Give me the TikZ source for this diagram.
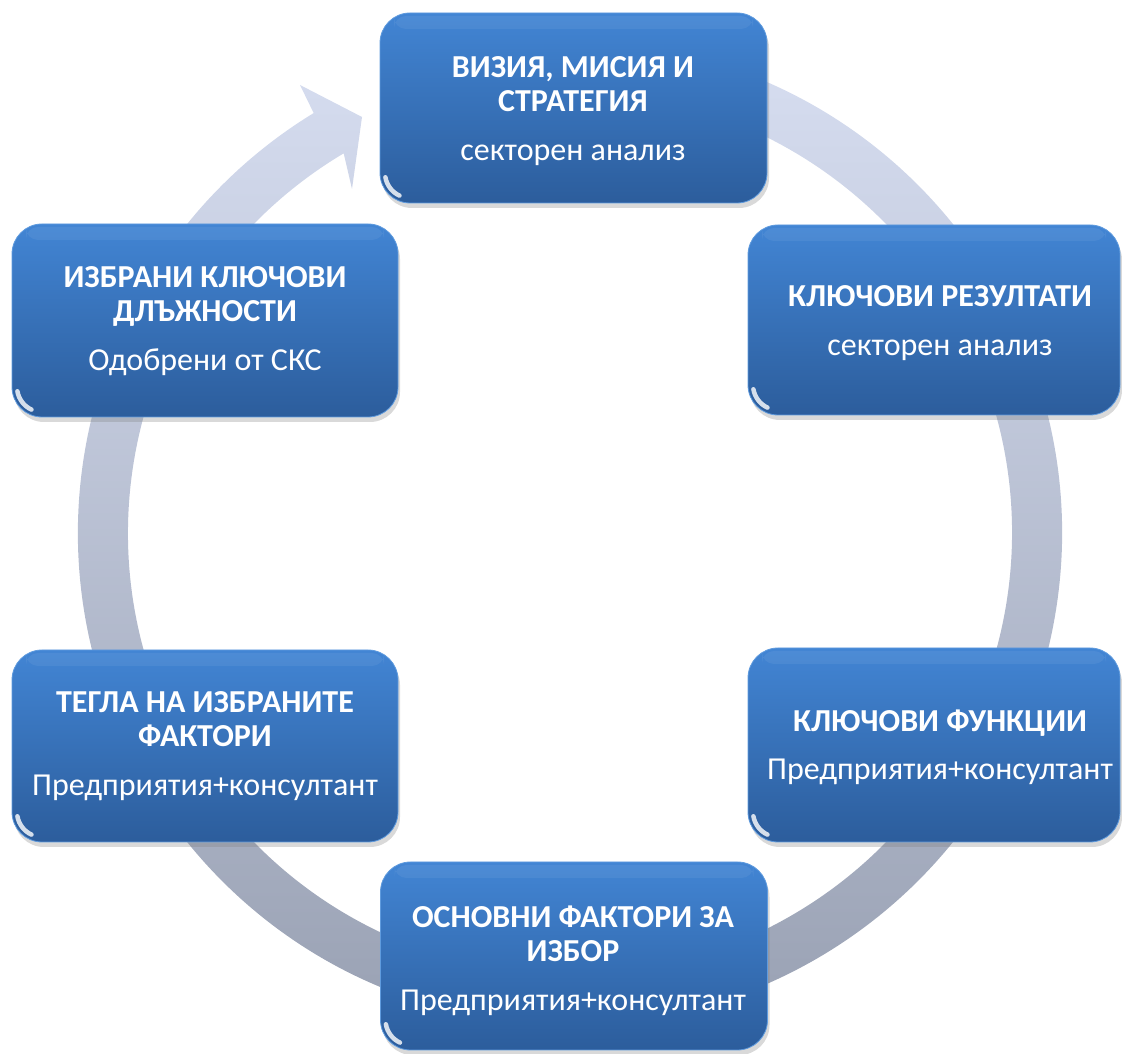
\documentclass[tikz,border=0pt]{standalone}
\usepackage{fontspec}
\setmainfont{Carlito}
\usetikzlibrary{shadows}
\definecolor{boxtop}{RGB}{66,133,212}
\definecolor{boxbot}{RGB}{44,93,156}
\definecolor{boxedge}{RGB}{95,155,222}
\definecolor{ringtop}{RGB}{214,221,240}
\definecolor{ringbot}{RGB}{150,158,176}
\tikzset{
  box/.style={rectangle, rounded corners=30pt, top color=boxtop, bottom color=boxbot,
    draw=boxedge, line width=0.8pt, inner sep=0pt,
    minimum width=387pt, minimum height=190pt,
    drop shadow={shadow xshift=2pt, shadow yshift=-5pt, opacity=0.3},
    path picture={
      \draw[white, opacity=0.8, line width=4.5pt, line cap=round]
        ([shift={(5.4pt,25.7pt)}]path picture bounding box.south west)
        arc[start angle=190, end angle=245, radius=25pt];
      \fill[white, opacity=0.06, rounded corners=12pt]
        ([shift={(14pt,-3pt)}]path picture bounding box.north west) rectangle
        ([shift={(-14pt,-16pt)}]path picture bounding box.north east);
    }},
  lbl/.style={text=white, align=center, font=\fontsize{32}{34}\selectfont, inner sep=0pt},
  ring/.style={top color=ringtop, bottom color=ringbot, draw=none},
}
\begin{document}
\begin{tikzpicture}[x=1pt,y=1pt]
\useasboundingbox (0pt,0pt) rectangle (1122pt,1054pt);
% circular arrow
\begin{scope}[shift={(570pt,521pt)}]
  \coordinate (hb1) at (-270pt,448pt);
  \coordinate (htip) at (-208pt,416pt);
  \coordinate (hb2) at (-218pt,344pt);
  \shade[ring] (75:492pt) arc[start angle=75, end angle=-238.6, radius=492pt]
    -- (hb1) -- (htip) -- (hb2)
    -- (-239.2:442pt) arc[start angle=-239.2, end angle=75, radius=442pt] -- cycle;
\end{scope}
% boxes
\node[box] (vt) at (573.5pt,946pt) {};
\node[box, minimum width=372pt] (rt) at (934pt,734pt) {};
\node[box, minimum width=372pt, minimum height=194pt] (rb) at (934pt,309pt) {};
\node[box, minimum height=188pt] (bo) at (574pt,98pt) {};
\node[box, minimum width=386pt, minimum height=192pt] (lb) at (205pt,308pt) {};
\node[box, minimum width=386pt, minimum height=193pt] (lt) at (205pt,733.5pt) {};
% labels
\node[lbl] (vtl) at (573pt,943pt) {\textbf{ВИЗИЯ, МИСИЯ И}\\\textbf{СТРАТЕГИЯ}\\[15pt]секторен анализ};
\node[lbl] (rtl) at (940pt,731pt) {\textbf{КЛЮЧОВИ РЕЗУЛТАТИ}\\[15pt]секторен анализ};
\node[lbl] (rbl) at (940pt,307pt) {\textbf{КЛЮЧОВИ ФУНКЦИИ}\\[14pt]Предприятия+консултант};
\node[lbl] (bol) at (573pt,93pt) {\textbf{ОСНОВНИ ФАКТОРИ ЗА}\\\textbf{ИЗБОР}\\[15pt]Предприятия+консултант};
\node[lbl] (ltl) at (205pt,733pt) {\textbf{ИЗБРАНИ КЛЮЧОВИ}\\\textbf{ДЛЪЖНОСТИ}\\[15pt]Одобрени от СКС};
\node[lbl] (lbl1) at (205pt,308pt) {\textbf{ТЕГЛА НА ИЗБРАНИТЕ}\\\textbf{ФАКТОРИ}\\[15pt]Предприятия+консултант};
\end{tikzpicture}
\end{document}
